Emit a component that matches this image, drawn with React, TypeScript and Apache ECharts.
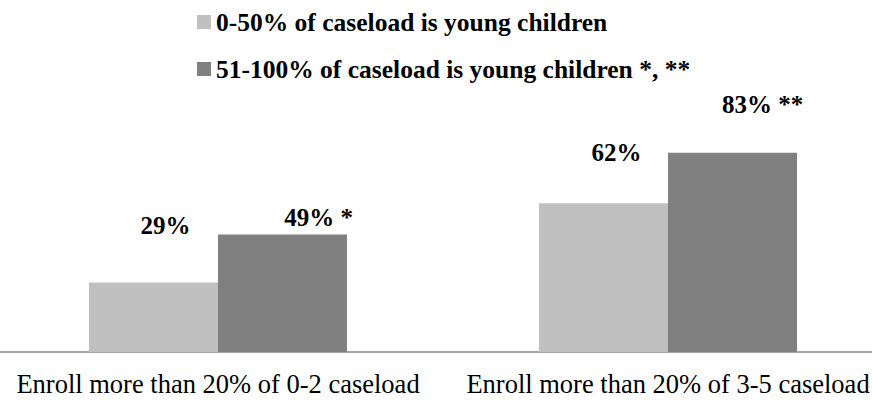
import React, { useEffect, useRef } from "react";
import * as echarts from "echarts";

const categories = ["Enroll more than 20% of 0-2 caseload", "Enroll more than 20% of 3-5 caseload"];
const seriesNames = ["0-50% of caseload is young children", "51-100% of caseload is young children *, **"];
const lowValues = [29, 62];
const highValues = [49, 83];
const lowLabels = ["29%", "62%"];
const highLabels = ["49% *", "83% **"];
const lowOffsets = [[12, -39], [13, -33]];
const highOffsets = [[36, 1], [30, -31]];

const SERIF = "'Liberation Serif', 'Times New Roman', serif";

export default function App() {
  const ref = useRef<HTMLDivElement>(null);
  useEffect(() => {
    if (!ref.current) return;
    const chart = echarts.init(ref.current, undefined, { renderer: "svg" });
    const labelStyle = {
      show: true,
      position: "top",
      fontFamily: SERIF,
      fontWeight: "bold",
      fontSize: 25,
      color: "#000",
    };
    chart.setOption({
      animation: false,
      backgroundColor: "#fff",
      textStyle: { fontFamily: SERIF },
      legend: {
        orient: "vertical",
        left: 192,
        top: 4,
        itemGap: 21,
        itemWidth: 14,
        itemHeight: 14,
        icon: "rect",
        textStyle: { fontFamily: SERIF, fontWeight: "bold", fontSize: 25.5, color: "#000" },
        data: seriesNames,
      },
      grid: { left: -7, right: -21, top: 112, bottom: 55, containLabel: false, outerBoundsMode: "none" },
      xAxis: {
        type: "category",
        data: categories,
        axisLine: { show: true, lineStyle: { color: "#888", width: 1.5 } },
        axisTick: { show: false },
        axisLabel: { fontFamily: SERIF, fontSize: 26.5, color: "#000", margin: 18, interval: 0 },
      },
      yAxis: {
        type: "value",
        min: 0,
        max: 100,
        show: false,
        splitLine: { show: false },
      },
      series: [
        {
          name: seriesNames[0],
          type: "bar",
          barWidth: 129,
          barGap: "0%",
          itemStyle: { color: "#c0c0c0" },
          data: lowValues.map((v, i) => ({
            value: v,
            label: { ...labelStyle, formatter: lowLabels[i], offset: lowOffsets[i] },
          })),
        },
        {
          name: seriesNames[1],
          type: "bar",
          barWidth: 129,
          barGap: "0%",
          itemStyle: { color: "#808080" },
          data: highValues.map((v, i) => ({
            value: v,
            label: { ...labelStyle, formatter: highLabels[i], offset: highOffsets[i] },
          })),
        },
      ],
    });
    return () => chart.dispose();
  }, []);
  return (
    <div
      ref={ref}
      style={{ position: "absolute", left: 0, top: 0, width: 872, height: 407 }}
    />
  );
}
